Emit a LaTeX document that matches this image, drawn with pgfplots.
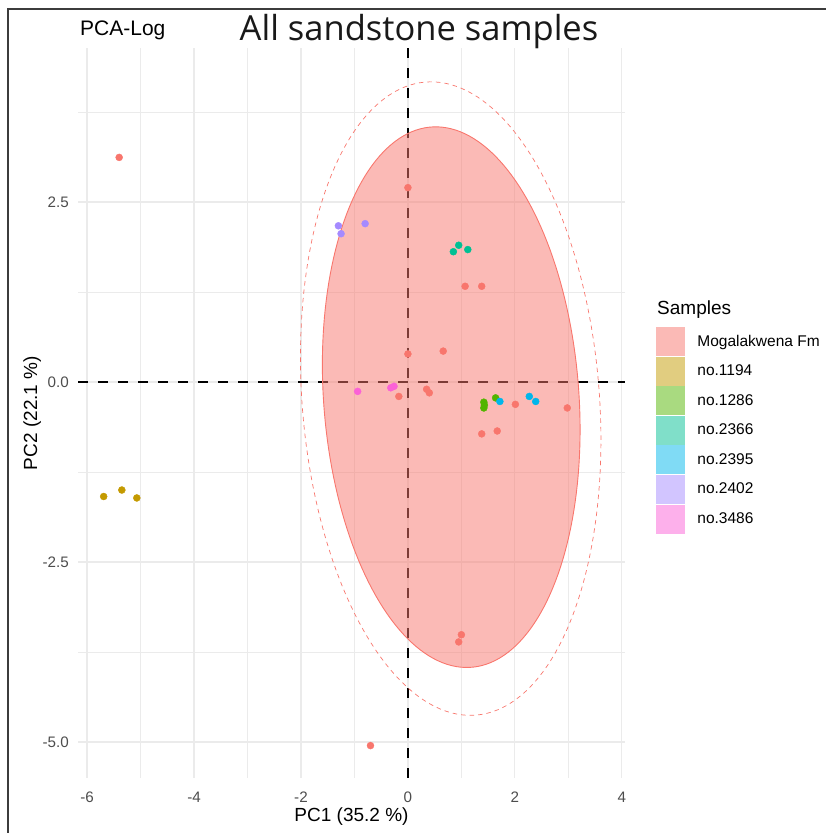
\documentclass[border=0pt]{standalone}
\usepackage{pgfplots}
\pgfplotsset{compat=1.18}
\usepackage{fontspec}
\setmainfont{Liberation Sans}
\newfontfamily\titlefont{Open Sans}

% ggplot2 hue palette for the seven sample groups
\definecolor{cMog}{HTML}{F8766D}
\definecolor{cA}{HTML}{C49A00}
\definecolor{cB}{HTML}{53B400}
\definecolor{cC}{HTML}{00C094}
\definecolor{cD}{HTML}{00B6EB}
\definecolor{cE}{HTML}{A58AFF}
\definecolor{cF}{HTML}{FB61D7}
\definecolor{gridc}{HTML}{EBEBEB}
\definecolor{tickc}{HTML}{4D4D4D}
\definecolor{framec}{HTML}{3C3C3C}

% filled square legend keys
\pgfplotsset{key/.style={legend image code/.code={\fill[#1] (0bp,-14bp) rectangle (28bp,14bp);}}}

% PCA scores (PC1, PC2) per sample group
\pgfplotstableread{
x y
-5.40 3.12
0.00 2.70
1.07 1.33
1.38 1.33
0.00 0.39
0.66 0.43
-0.17 -0.20
0.35 -0.10
0.40 -0.15
2.01 -0.31
2.98 -0.36
1.38 -0.72
1.67 -0.68
1.00 -3.51
0.95 -3.61
-0.70 -5.05
}\mogal
\pgfplotstableread{
x y
-5.69 -1.59
-5.35 -1.50
-5.07 -1.61
}\sA
\pgfplotstableread{
x y
1.42 -0.28
1.43 -0.32
1.42 -0.36
1.64 -0.22
}\sB
\pgfplotstableread{
x y
0.85 1.81
0.95 1.90
1.12 1.84
}\sC
\pgfplotstableread{
x y
1.72 -0.27
2.27 -0.20
2.39 -0.27
}\sD
\pgfplotstableread{
x y
-1.30 2.17
-1.25 2.06
-0.80 2.20
}\sE
\pgfplotstableread{
x y
-0.94 -0.13
-0.32 -0.08
-0.26 -0.06
}\sF

\begin{document}
\begin{tikzpicture}
\path[use as bounding box] (0,0) rectangle (826bp,833bp);
\draw[line width=1.3bp, framec] (8bp,0bp) -- (8bp,824bp) -- (826bp,824bp);

\begin{axis}[
  at={(78bp,55bp)}, anchor=south west,
  width=547bp, height=730bp, scale only axis,
  xmin=-6.17, xmax=4.06, ymin=-5.5, ymax=4.64,
  axis line style={draw=none},
  major tick length=0pt, minor tick length=0pt,
  xtick={-6,-4,-2,0,2,4}, xticklabels={-6,-4,-2,0,2,4},
  ytick={-5,-2.5,0,2.5}, yticklabels={-5.0,-2.5,0.0,2.5},
  minor xtick={-5,-3,-1,1,3}, minor ytick={-3.75,-1.25,1.25,3.75},
  grid=both,
  major grid style={gridc, line width=1.2bp},
  minor grid style={gridc, line width=0.7bp},
  tick label style={font=\fontsize{15.2bp}{18bp}\selectfont, text=tickc, inner sep=0pt},
  xticklabel style={anchor=north, yshift=-13.5bp},
  yticklabel style={anchor=east, xshift=-9bp},
  xlabel={PC1 (35.2 \%)}, ylabel={PC2 (22.1 \%)},
  label style={font=\fontsize{19bp}{22bp}\selectfont, inner sep=0pt},
  xlabel style={at={(axis description cs:0.5,-0.0534)}, anchor=center},
  ylabel style={at={(axis description cs:-0.0835,0.5)}, anchor=center},
  legend style={at={(axis description cs:1.0567,0.6178)}, anchor=north west,
    draw=none, fill=none, inner sep=0pt, outer sep=0pt,
    row sep=1.2bp, column sep=11bp,
    font=\fontsize{15.5bp}{18bp}\selectfont},
  legend cell align=left,
]
% reference lines through the origin
\addplot[forget plot, black, line width=2.4bp, dash pattern=on 10bp off 10bp]
  coordinates {(-6.17,0) (4.06,0)};
\addplot[forget plot, black, line width=2.4bp, dash pattern=on 10bp off 10bp]
  coordinates {(0,-5.5) (0,4.64)};

% confidence ellipses of the Mogalakwena Fm group
% (centre, half-extents along PC1 and PC2, correlation -0.12 / -0.13)
\addplot[forget plot, draw=cMog, line width=0.9bp, fill=cMog, fill opacity=0.5,
  domain=0:360, samples=181, variable=\t]
  ({0.81+2.41*cos(\t)}, {-0.21+3.755*cos(\t-96.9)});
\addplot[forget plot, draw=cMog, line width=0.7bp, dash pattern=on 4.5bp off 4bp,
  domain=0:360, samples=181, variable=\t]
  ({0.80+2.81*cos(\t)}, {-0.23+4.40*cos(\t-97.5)});

% sample scores
\addplot[only marks, mark=*, mark size=3.5bp, color=cMog, key=cMog!50!white] table {\mogal};
\addlegendentry{Mogalakwena Fm}
\addplot[only marks, mark=*, mark size=3.5bp, color=cA, key=cA!50!white] table {\sA};
\addlegendentry{no.1194}
\addplot[only marks, mark=*, mark size=3.5bp, color=cB, key=cB!50!white] table {\sB};
\addlegendentry{no.1286}
\addplot[only marks, mark=*, mark size=3.5bp, color=cC, key=cC!50!white] table {\sC};
\addlegendentry{no.2366}
\addplot[only marks, mark=*, mark size=3.5bp, color=cD, key=cD!50!white] table {\sD};
\addlegendentry{no.2395}
\addplot[only marks, mark=*, mark size=3.5bp, color=cE, key=cE!50!white] table {\sE};
\addlegendentry{no.2402}
\addplot[only marks, mark=*, mark size=3.5bp, color=cF, key=cF!50!white] table {\sF};
\addlegendentry{no.3486}
\end{axis}

% titles and legend heading
\node[anchor=base, inner sep=0pt, text=black!90, font=\titlefont\fontsize{34.5bp}{40bp}\selectfont]
  at (419bp,792bp) {All sandstone samples};
\node[anchor=base west, inner sep=0pt, font=\fontsize{21bp}{25bp}\selectfont]
  at (80bp,797bp) {PCA-Log};
\node[anchor=base west, inner sep=0pt, font=\fontsize{19bp}{22bp}\selectfont]
  at (657bp,518bp) {Samples};
\end{tikzpicture}
\end{document}
